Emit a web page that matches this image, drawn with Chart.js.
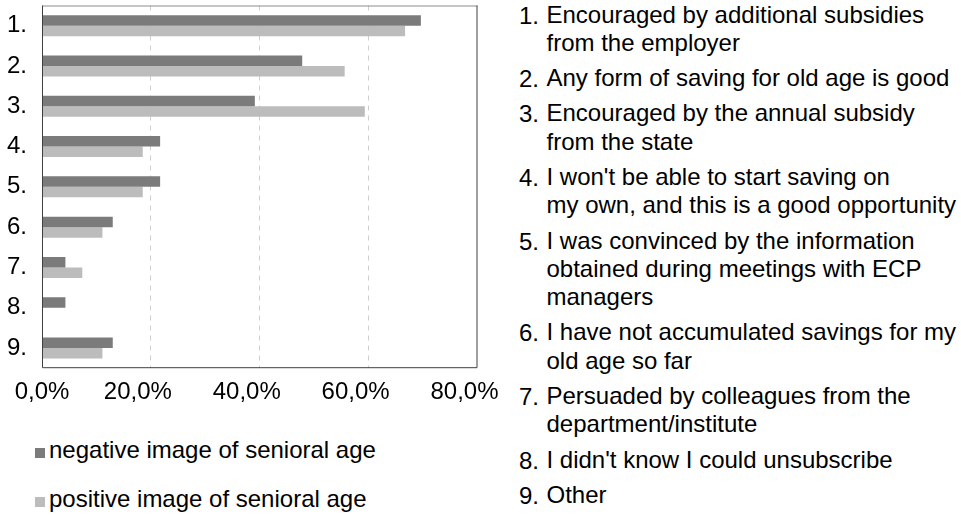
<!DOCTYPE html>
<html>
<head>
<meta charset="utf-8">
<script src="https://cdn.jsdelivr.net/npm/chart.js@4.4.1/dist/chart.umd.min.js"></script>
<style>
  body { margin: 0; background: #fff; font-family: "Liberation Sans", Arial, sans-serif; color: #000; }
  #wrap { position: relative; width: 961px; height: 516px; overflow: hidden; }
  #plot { position: absolute; left: 0; top: 0; width: 510px; height: 420px; }
  #legend { position: absolute; left: 35px; top: 435.7px; font-size: 24px; line-height: 28px; }
  #legend .row { position: relative; height: 49px; padding-left: 14px; white-space: nowrap; }
  #legend .sw { position: absolute; left: 0; top: 12.3px; width: 10px; height: 10px; }
  #notes { position: absolute; left: 519px; top: 0.5px; font-size: 24px; line-height: 28.3px; }
  #notes .note { position: relative; padding-left: 27.5px; margin-bottom: 7px; white-space: nowrap; }
  #notes .num { position: absolute; left: 0; top: 1px; }
</style>
</head>
<body>
<div id="wrap">
  <div id="plot"><canvas id="chart"></canvas></div>
  <div id="legend"></div>
  <div id="notes"></div>
</div>
<script>
// categories and values (share of respondents, %)
const categories = ['1.', '2.', '3.', '4.', '5.', '6.', '7.', '8.', '9.'];
const negativeValues = [69.6, 47.8, 39.1, 21.7, 21.7, 13.0, 4.3, 4.3, 13.0];
const positiveValues = [66.7, 55.6, 59.3, 18.5, 18.5, 11.1, 7.4, 0, 11.1];
const seriesNames = ['negative image of senioral age', 'positive image of senioral age'];
const xTicks = [0, 20, 40, 60, 80];

const reasons = [
  ['Encouraged by additional subsidies', 'from the employer'],
  ['Any form of saving for old age is good'],
  ['Encouraged by the annual subsidy', 'from the state'],
  ["I won't be able to start saving on", 'my own, and this is a good opportunity'],
  ['I was convinced by the information', 'obtained during meetings with ECP', 'managers'],
  ['I have not accumulated savings for my', 'old age so far'],
  ['Persuaded by colleagues from the', 'department/institute'],
  ["I didn't know I could unsubscribe"],
  ['Other']
];

const colors = ['#7b7b7b', '#bcbcbc'];
const FONT = '"Liberation Sans", Arial, sans-serif';
Chart.defaults.font.family = FONT;
Chart.defaults.color = '#000';

// frame around the plot area
const framePlugin = {
  id: 'frame',
  afterDatasetsDraw(chart) {
    const { ctx, chartArea: a } = chart;
    ctx.save();
    ctx.lineWidth = 1;
    ctx.strokeStyle = '#8c8c8c';
    ctx.beginPath();
    ctx.moveTo(a.left, a.top + 0.5);
    ctx.lineTo(a.right, a.top + 0.5);
    ctx.stroke();
    ctx.strokeStyle = '#404040';
    ctx.beginPath();
    ctx.moveTo(a.left + 0.5, a.top);
    ctx.lineTo(a.left + 0.5, a.bottom - 0.5);
    ctx.lineTo(a.right - 0.5, a.bottom - 0.5);
    ctx.lineTo(a.right - 0.5, a.top);
    ctx.stroke();
    ctx.restore();
  }
};

// the original's x labels sit a little left of their gridlines
const tickShiftPlugin = {
  id: 'tickShift',
  beforeDraw(chart) {
    const items = chart.scales.x.getLabelItems();
    if (items._shifted) return;
    items._shifted = true;
    items.forEach((item, i) => {
      if (i > 0) item.options.translation[0] -= 13;
    });
  }
};

new Chart(document.getElementById('chart'), {
  type: 'bar',
  data: {
    labels: categories,
    datasets: [
      { label: seriesNames[0], data: negativeValues, backgroundColor: colors[0] },
      { label: seriesNames[1], data: positiveValues, backgroundColor: colors[1] }
    ]
  },
  options: {
    indexAxis: 'y',
    responsive: true,
    maintainAspectRatio: false,
    animation: false,
    layout: { padding: { top: 5.5, bottom: 3, left: 7, right: 32.5 } },
    datasets: { bar: { categoryPercentage: 0.52, barPercentage: 1.0 } },
    plugins: { legend: { display: false }, tooltip: { enabled: false } },
    scales: {
      x: {
        min: 0,
        max: 80,
        afterBuildTicks: (axis) => { axis.ticks = xTicks.map(v => ({ value: v })); },
        afterFit: (axis) => { axis.paddingLeft = 0; axis.paddingRight = 0; },
        ticks: {
          font: { size: 24 },
          color: '#000',
          padding: 10,
          callback: (v) => v.toFixed(1).replace('.', ',') + '%'
        },
        grid: {
          drawTicks: false,
          color: (c) => (c.tick && (c.tick.value === 0 || c.tick.value === 80)) ? 'rgba(0,0,0,0)' : '#cfcfcf'
        },
        border: { display: false, dash: [5, 5] }
      },
      y: {
        afterFit: (axis) => { axis.width = 35; axis.paddingTop = 0; axis.paddingBottom = 0; },
        ticks: { font: { size: 24 }, color: '#000', padding: 0, crossAlign: 'far' },
        grid: { display: false, drawTicks: false },
        border: { display: false }
      }
    }
  },
  plugins: [framePlugin, tickShiftPlugin]
});

// legend
const legendEl = document.getElementById('legend');
seriesNames.forEach((name, i) => {
  const row = document.createElement('div');
  row.className = 'row';
  row.innerHTML = `<span class="sw" style="background:${colors[i]}"></span>${name}`;
  legendEl.appendChild(row);
});

// numbered list of reasons
const notesEl = document.getElementById('notes');
reasons.forEach((lines, i) => {
  const item = document.createElement('div');
  item.className = 'note';
  item.innerHTML = `<span class="num">${i + 1}.</span>${lines.join('<br>')}`;
  notesEl.appendChild(item);
});
</script>
</body>
</html>
